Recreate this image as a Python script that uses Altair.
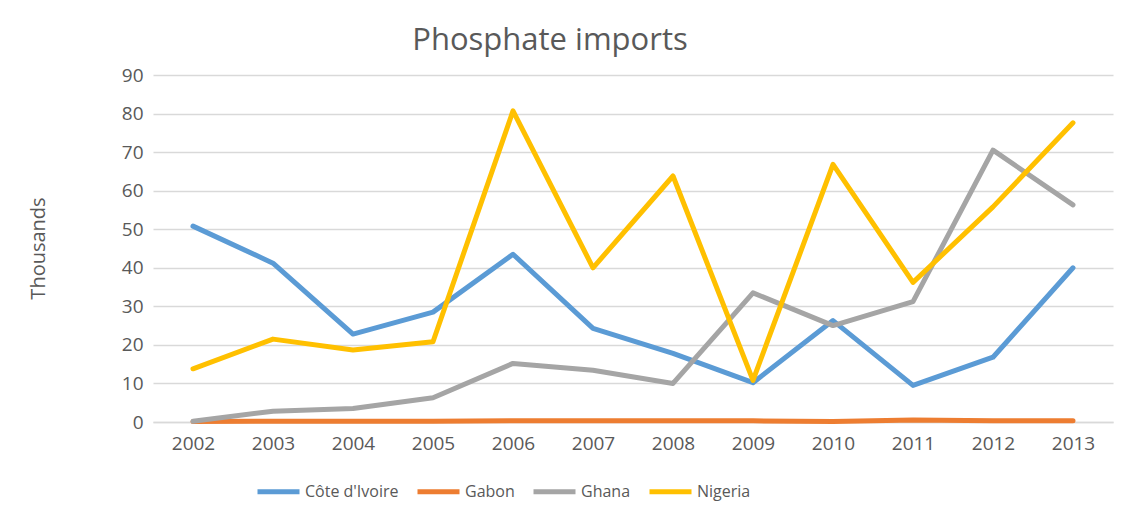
import altair as alt
import pandas as pd

years = [str(y) for y in range(2002, 2014)]
countries = ["Côte d'Ivoire", "Gabon", "Ghana", "Nigeria"]
cote = [50.8, 41.2, 22.8, 28.5, 43.5, 24.3, 17.8, 10.2, 26.3, 9.5, 16.8, 40.0]
gabon = [0.1, 0.2, 0.2, 0.2, 0.3, 0.3, 0.3, 0.3, 0.1, 0.5, 0.3, 0.3]
ghana = [0.2, 2.8, 3.5, 6.3, 15.2, 13.4, 10.0, 33.5, 25.0, 31.2, 70.5, 56.3]
nigeria = [13.8, 21.5, 18.7, 20.8, 80.7, 40.0, 63.8, 10.8, 66.8, 36.2, 55.8, 77.6]
colors = ["#5B9BD5", "#ED7D31", "#A5A5A5", "#FFC000"]

rows = []
for name, vals in zip(countries, [cote, gabon, ghana, nigeria]):
    for i, (yr, v) in enumerate(zip(years, vals)):
        rows.append({"Year": yr, "Country": name, "Value": v})
df = pd.DataFrame(rows)

FONT = "Open Sans"
TXT = "#595959"

chart = alt.Chart(df).mark_line(strokeWidth=5, strokeCap="round", strokeJoin="round").encode(
    x=alt.X("Year:O", sort=years, scale=alt.Scale(type="point", padding=0.5),
            axis=alt.Axis(title=None, labelAngle=0, ticks=False, domain=True, domainColor="#D9D9D9",
                          domainWidth=1.5, grid=False, labelFontSize=19, labelColor=TXT,
                          labelFont=FONT, labelPadding=12)),
    y=alt.Y("Value:Q", scale=alt.Scale(domain=[0, 90]),
            axis=alt.Axis(title="Thousands", values=list(range(0, 91, 10)), ticks=False, domain=False,
                          gridColor="#D9D9D9", gridWidth=1.5, labelFontSize=19, labelColor=TXT,
                          labelFont=FONT, labelPadding=10, titleFont=FONT, titleFontSize=20,
                          titleFontWeight="normal", titleColor=TXT, titleX=-115, titleY=173,
                          titleAngle=-90, titleAlign="center", titleBaseline="middle")),
    color=alt.Color("Country:N", sort=countries,
                    scale=alt.Scale(domain=countries, range=colors),
                    legend=alt.Legend(title=None, orient="none", direction="horizontal",
                                      legendX=102, legendY=393, symbolType="stroke",
                                      symbolSize=1764, symbolStrokeWidth=5,
                                      labelFontSize=16, labelFont=FONT, labelColor=TXT,
                                      labelOffset=3, columnPadding=8, columns=4)),
    order=alt.Order("Country:N"),
).properties(
    width=960, height=347,
    title=alt.TitleParams("Phosphate imports", font=FONT, fontSize=31, fontWeight="normal",
                          color=TXT, dx=-83, offset=9),
    padding={"left": 145, "top": 67, "right": 12, "bottom": 90},
    autosize=alt.AutoSizeParams(type="none"),
).configure_view(stroke=None)

chart.save("out.html", embed_options={"renderer": "svg", "actions": False})
